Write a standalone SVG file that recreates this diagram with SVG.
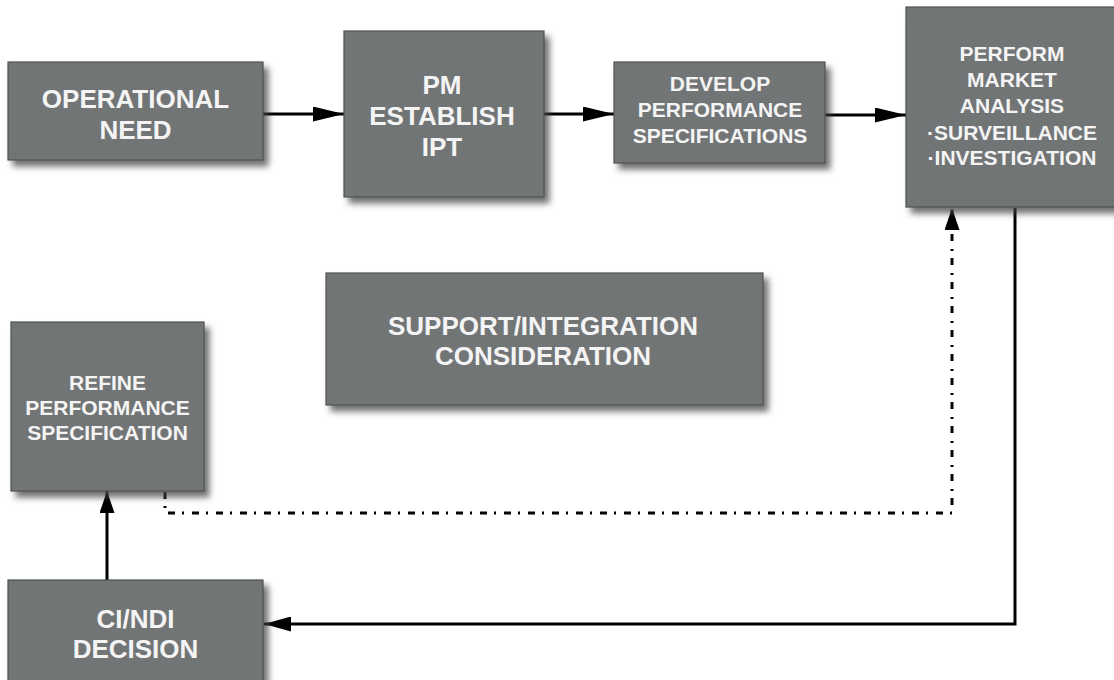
<svg xmlns="http://www.w3.org/2000/svg" width="1114" height="680" viewBox="0 0 1114 680">
<style>
.box{fill:#727576;stroke:#505253;stroke-width:1.2;filter:url(#sh)}
.t{font-family:"Liberation Sans",Arial,sans-serif;font-weight:bold;fill:#f4f4f4;text-anchor:middle}
.big{font-size:26px}
.sm{font-size:21px}
.ln{fill:none;stroke:#000;stroke-width:3}
.dash{fill:none;stroke:#000;stroke-width:3;stroke-dasharray:7 7 2 8}
</style>
<defs>
<filter id="sh" x="-10%" y="-10%" width="130%" height="130%">
<feDropShadow dx="5" dy="6" stdDeviation="3" flood-color="#444" flood-opacity="0.75"/>
</filter>
<marker id="ah" markerUnits="userSpaceOnUse" markerWidth="31" markerHeight="15" refX="31" refY="7.5" orient="auto">
<path d="M0,0 L31,7.5 L0,15 z" fill="#000"/>
</marker>
<marker id="ahs" markerUnits="userSpaceOnUse" markerWidth="22" markerHeight="15" refX="22" refY="7.5" orient="auto">
<path d="M0,0 L22,7.5 L0,15 z" fill="#000"/>
</marker>
<marker id="ahm" markerUnits="userSpaceOnUse" markerWidth="27" markerHeight="15" refX="27" refY="7.5" orient="auto">
<path d="M0,0 L27,7.5 L0,15 z" fill="#000"/>
</marker>
</defs>
<rect width="1114" height="680" fill="#fff"/>
<g id="connectors">
<line class="ln" x1="263" y1="114" x2="344" y2="114" marker-end="url(#ah)"/>
<line class="ln" x1="544" y1="114" x2="614" y2="114" marker-end="url(#ah)"/>
<line class="ln" x1="825" y1="115" x2="906" y2="115" marker-end="url(#ah)"/>
<path class="ln" d="M1015,208 V624 H264" marker-end="url(#ahm)"/>
<path class="dash" d="M165,492 V513 H952 V208" marker-end="url(#ahs)"/>
<line class="ln" x1="107" y1="580" x2="107" y2="491" marker-end="url(#ahs)"/>
</g>
<g id="n-operational">
<rect class="box" x="8" y="62" width="255" height="98"/>
<text class="t big" x="135.5" y="107.5">OPERATIONAL</text>
<text class="t big" x="135.5" y="138.5">NEED</text>
</g>
<g id="n-pm">
<rect class="box" x="344" y="31" width="200" height="166"/>
<text class="t big" x="442" y="93.5">PM</text>
<text class="t big" x="442" y="124.5">ESTABLISH</text>
<text class="t big" x="442" y="155.5">IPT</text>
</g>
<g id="n-develop">
<rect class="box" x="614" y="62" width="211" height="101"/>
<text class="t sm" x="720" y="90.7">DEVELOP</text>
<text class="t sm" x="720" y="116.7">PERFORMANCE</text>
<text class="t sm" x="720" y="142.7">SPECIFICATIONS</text>
</g>
<g id="n-perform">
<rect class="box" x="906" y="7" width="215" height="200"/>
<text class="t sm" x="1012" y="60.5">PERFORM</text>
<text class="t sm" x="1012" y="86.5">MARKET</text>
<text class="t sm" x="1012" y="112.5">ANALYSIS</text>
<text class="t sm" x="1012" y="139.5">·SURVEILLANCE</text>
<text class="t sm" x="1012" y="164.5">·INVESTIGATION</text>
</g>
<g id="n-support">
<rect class="box" x="326" y="273" width="437" height="132"/>
<text class="t big" x="543" y="334.5">SUPPORT/INTEGRATION</text>
<text class="t big" x="543" y="364.5">CONSIDERATION</text>
</g>
<g id="n-refine">
<rect class="box" x="11" y="322" width="193" height="169"/>
<text class="t sm" x="107.5" y="389.5">REFINE</text>
<text class="t sm" x="107.5" y="414.5">PERFORMANCE</text>
<text class="t sm" x="107.5" y="440">SPECIFICATION</text>
</g>
<g id="n-cindi">
<rect class="box" x="8" y="580" width="255" height="106"/>
<text class="t big" x="135.5" y="627.5">CI/NDI</text>
<text class="t big" x="135.5" y="657.5">DECISION</text>
</g>
</svg>
